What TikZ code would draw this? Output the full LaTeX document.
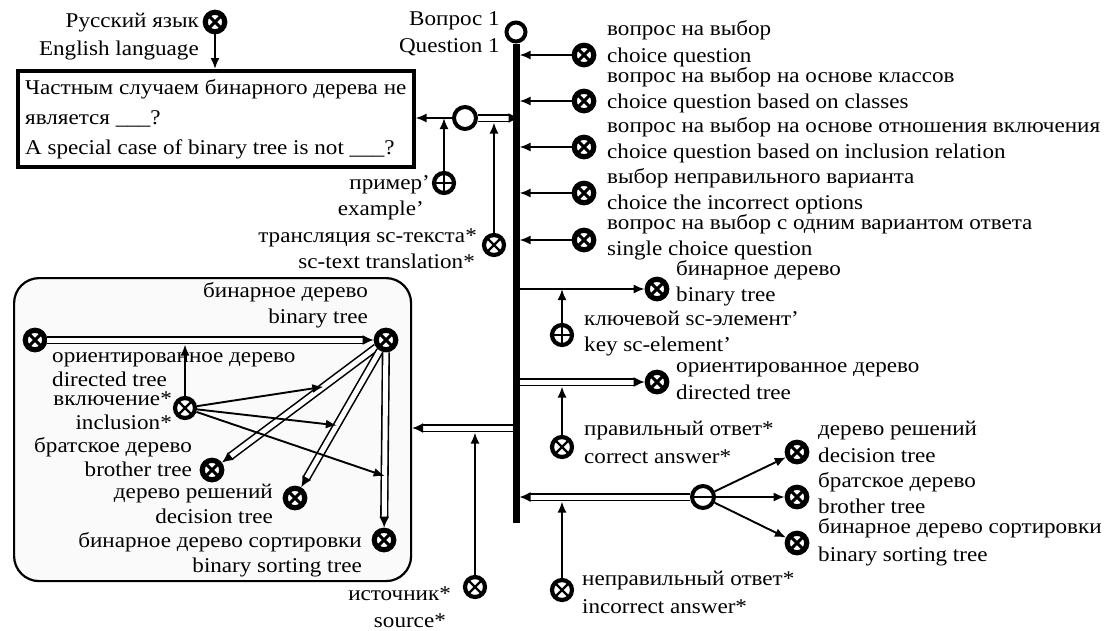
\documentclass[tikz,border=0pt]{standalone}
\usepackage{fontspec}
\setmainfont{Liberation Serif}[FakeStretch=1.1]
\usetikzlibrary{arrows.meta,calc}
\begin{document}
\begin{tikzpicture}[x=1pt,y=-1pt,
  font=\fontsize{21}{24}\selectfont,
  cls/.style={circle,draw,fill=white,line width=5.2pt,minimum size=19.5pt,inner sep=0pt,
    path picture={\draw[line width=3pt] (path picture bounding box.south west)--(path picture bounding box.north east)
      (path picture bounding box.north west)--(path picture bounding box.south east);}},
  role/.style={circle,draw,fill=white,line width=4.2pt,minimum size=20pt,inner sep=0pt,
    path picture={\draw[line width=2.2pt] (path picture bounding box.south west)--(path picture bounding box.north east)
      (path picture bounding box.north west)--(path picture bounding box.south east);}},
  plusn/.style={circle,draw,fill=white,line width=4.2pt,minimum size=20pt,inner sep=0pt,
    path picture={\draw[line width=2.2pt] (path picture bounding box.west)--(path picture bounding box.east)
      (path picture bounding box.north)--(path picture bounding box.south);}},
  tup/.style={circle,draw,fill=white,line width=4pt,minimum size=19pt,inner sep=0pt},
  tupb/.style={tup,minimum size=22pt},
  lb/.style={inner sep=0pt},
  arr/.style={line width=1.9pt,-{Latex[length=11pt,width=9pt]}},
  dbl/.style={line width=1.6pt,double=white,double distance=5pt,-{Latex[length=11pt,width=10pt]}},
]
\useasboundingbox (0,0) rectangle (1109,630);

% left framed set
\node[draw,rounded corners=25pt,line width=2.2pt,fill=gray!4,minimum width=397pt,minimum height=303pt,anchor=north west] (lbox) at (13,277) {};

% top: language and question text
\node[cls] (lang) at (215,22) {};
\node[lb,anchor=base east] (langru) at (199,27) {Русский язык};
\node[lb,anchor=base east] (langen) at (199,55) {English language};
\node[draw,line width=3.5pt,fill=white,align=left,anchor=north west,minimum width=396pt,minimum height=96pt,inner xsep=2pt,font=\fontsize{21}{30}\selectfont] (qbox) at (16,69)
  {Частным случаем бинарного дерева не\\является \_\_\_?\\A special case of binary tree is not \_\_\_?};
\draw[arr] (lang) -- (qbox.north -| lang);

% question node and bus
\node[tup] (q1) at (516,32) {};
\node[lb,anchor=base east] (q1ru) at (500,25) {Вопрос 1};
\node[lb,anchor=base east] (q1en) at (500,52) {Question 1};
\coordinate (busend) at (516,523);
\draw[line width=7pt] (q1.south) -- (busend);

% right classes
\node[cls] (c1) at (584,55) {};
\node[cls] (c2) at (584,101) {};
\node[cls] (c3) at (584,147) {};
\node[cls] (c4) at (584,193) {};
\node[cls] (c5) at (584,240) {};
\foreach \n in {c1,c2,c3,c4,c5} {\draw[arr,shorten >=3.5pt] (\n) -- (\n -| q1);}
\node[lb,anchor=base west] (c1ru) at (607,35) {вопрос на выбор};
\node[lb,anchor=base west] (c1en) at (607,62) {choice question};
\node[lb,anchor=base west] (c2ru) at (607,82) {вопрос на выбор на основе классов};
\node[lb,anchor=base west] (c2en) at (607,108) {choice question based on classes};
\node[lb,anchor=base west] (c3ru) at (607,132) {вопрос на выбор на основе отношения включения};
\node[lb,anchor=base west] (c3en) at (607,158) {choice question based on inclusion relation};
\node[lb,anchor=base west] (c4ru) at (607,183) {выбор неправильного варианта};
\node[lb,anchor=base west] (c4en) at (607,209) {choice the incorrect options};
\node[lb,anchor=base west] (c5ru) at (607,229) {вопрос на выбор с одним вариантом ответа};
\node[lb,anchor=base west] (c5en) at (607,255) {single choice question};

% question text tuple
\node[tupb] (t1) at (465,118) {};
\coordinate (t1s) at (519.5,118);
\draw[arr] (t1) -- (t1 -| qbox.east);
\draw[dbl] (t1) -- (t1s);
\node[plusn] (ex) at (444,183) {};
\draw[arr] (ex) -- (ex |- t1);
\node[role] (tr) at (494,245) {};
\draw[arr] (tr) -- ($(tr |- t1)+(0,4.5)$);
\node[lb,anchor=base east] (exru) at (430,189) {пример'};
\node[lb,anchor=base east] (exen) at (424,215) {example'};
\node[lb,anchor=base east] (trru) at (477,242) {трансляция sc-текста*};
\node[lb,anchor=base east] (tren) at (475,268) {sc-text translation*};

% key element
\coordinate (bt2s) at (516,289);
\node[cls] (bt2) at (657,289) {};
\draw[arr] (bt2s) -- (bt2);
\node[plusn] (key) at (562,335) {};
\draw[arr] (key) -- (key |- bt2);
\node[lb,anchor=base west] (bt2ru) at (676,275) {бинарное дерево};
\node[lb,anchor=base west] (bt2en) at (676,301) {binary tree};
\node[lb,anchor=base west] (keyru) at (584,325) {ключевой sc-элемент'};
\node[lb,anchor=base west] (keyen) at (584,351) {key sc-element'};

% correct answer
\coordinate (dir2s) at (519.5,382);
\node[cls] (dir2) at (657,382) {};
\draw[dbl] (dir2s) -- (dir2);
\node[role] (corr) at (562,447) {};
\draw[arr] (corr) -- ($(corr |- dir2)+(0,4.5)$);
\node[lb,anchor=base west] (dir2ru) at (676,372) {ориентированное дерево};
\node[lb,anchor=base west] (dir2en) at (676,399) {directed tree};
\node[lb,anchor=base west] (corrru) at (584,435) {правильный ответ*};
\node[lb,anchor=base west] (corren) at (584,463) {correct answer*};

% incorrect answers
\node[tupb] (tp) at (703,497) {};
\coordinate (tps) at (519.5,497);
\draw[dbl] (tp) -- (tps);
\node[cls] (dt3) at (797,452) {};
\node[cls] (br3) at (797,497) {};
\node[cls] (bs3) at (797,543) {};
\draw[arr] (tp) -- (dt3);
\draw[arr] (tp.west) -- (br3);
\draw[arr] (tp) -- (bs3);
\node[role] (inc) at (562,590) {};
\draw[arr] (inc) -- ($(inc |- tp)+(0,4.5)$);
\node[lb,anchor=base west] (dt3ru) at (818,435) {дерево решений};
\node[lb,anchor=base west] (dt3en) at (818,462) {decision tree};
\node[lb,anchor=base west] (br3ru) at (818,487) {братское дерево};
\node[lb,anchor=base west] (br3en) at (818,513) {brother tree};
\node[lb,anchor=base west] (bs3ru) at (818,533) {бинарное дерево сортировки};
\node[lb,anchor=base west] (bs3en) at (818,561) {binary sorting tree};
\node[lb,anchor=base west] (incru) at (582,585) {неправильный ответ*};
\node[lb,anchor=base west] (incen) at (582,613) {incorrect answer*};

% source
\coordinate (ls) at (512.5,428);
\draw[dbl] (ls) -- (ls -| lbox.east);
\node[role] (src) at (475,587) {};
\draw[arr] (src) -- ($(src |- ls)+(0,4.5)$);
\node[lb,anchor=base east] (srcru) at (451,600) {источник*};
\node[lb,anchor=base east] (srcen) at (446,627) {source*};

% inside the framed set
\node[cls] (dirL) at (35,340) {};
\node[cls] (btL) at (386,340) {};
\node[role] (incl) at (185,408) {};
\node[cls] (brL) at (212,470) {};
\node[cls] (dtL) at (295,498) {};
\node[cls] (bsL) at (384,540) {};
\draw[dbl] (dirL) -- (btL);
\draw[dbl] (btL) -- (brL);
\draw[dbl] (btL) -- (dtL);
\draw[dbl] (btL) -- (bsL);
\draw[arr] (incl) -- ($(incl |- btL)+(0,4.5)$);
\draw[arr] (incl) -- ($(btL)!0.36!(brL)$);
\draw[arr] (incl) -- ($(btL)!0.54!(dtL)$);
\draw[arr] (incl) -- ($(btL)!0.68!(bsL)$);
\node[lb,anchor=base east] (btLru) at (368,297) {бинарное дерево};
\node[lb,anchor=base east] (btLen) at (368,323) {binary tree};
\node[lb,anchor=base west] (dirLru) at (52,362) {ориентированное дерево};
\node[lb,anchor=base west] (dirLen) at (52,386) {directed tree};
\node[lb,anchor=base east] (inclru) at (172,405) {включение*};
\node[lb,anchor=base east] (inclen) at (172,429) {inclusion*};
\node[lb,anchor=base east] (brLru) at (192,452) {братское дерево};
\node[lb,anchor=base east] (brLen) at (192,476) {brother tree};
\node[lb,anchor=base east] (dtLru) at (273,498) {дерево решений};
\node[lb,anchor=base east] (dtLen) at (273,523) {decision tree};
\node[lb,anchor=base east] (bsLru) at (362,547) {бинарное дерево сортировки};
\node[lb,anchor=base east] (bsLen) at (362,572) {binary sorting tree};
\end{tikzpicture}
\end{document}
